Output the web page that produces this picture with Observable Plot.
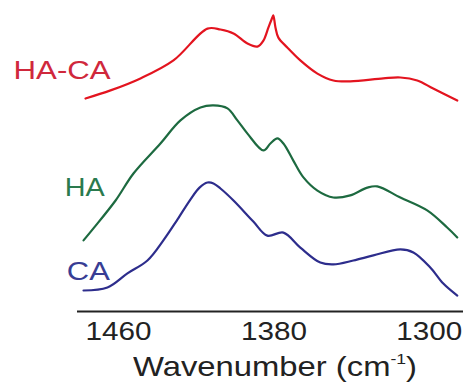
<!DOCTYPE html>
<html>
<head>
<meta charset="utf-8">
<script src="https://cdn.jsdelivr.net/npm/d3@7"></script>
<script src="https://cdn.jsdelivr.net/npm/@observablehq/plot@0.6"></script>
<style>
  html, body { margin: 0; padding: 0; background: #fff; }
  #chart { width: 467px; }
  .xlab { position: relative; height: 43px; width: 467px; font-family: "Liberation Sans", Arial, sans-serif; color: #222; }
  .xlab span { position: absolute; left: 133px; top: 8px; font-size: 28px; line-height: 28px; white-space: nowrap; transform-origin: left center; }
  .xlab sup { font-size: 15px; vertical-align: 12px; line-height: 0; }
</style>
</head>
<body>
<div id="chart"></div>
<script>
// Wavenumbers (cm^-1) and offset absorbance (a.u.)
const haCaWavenumber = [1477, 1464.1, 1448.7, 1431.7, 1414.2, 1407.5, 1400.8, 1393.6, 1388.5, 1385.4, 1382.8, 1380.8, 1380.3, 1379.2, 1377.7, 1373.1, 1366.4, 1357.6, 1349.4, 1340.7, 1323.7, 1314.9, 1306.2, 1298.0, 1285.6];
const haCaAbsorbance = [71.0, 73.7, 77.7, 83.7, 94.3, 94.0, 92.7, 89.3, 88.3, 90.3, 94.7, 98.0, 98.7, 94.7, 91.3, 88.0, 83.7, 79.3, 77.0, 76.7, 77.7, 78.0, 77.0, 74.3, 70.3];

const haWavenumber = [1478.0, 1472.9, 1461.5, 1452.3, 1438.4, 1428.1, 1417.8, 1411.1, 1403.9, 1398.8, 1393.6, 1385.4, 1381.8, 1378.2, 1375.1, 1370.0, 1364.8, 1357.6, 1349.4, 1340.7, 1331.9, 1326.8, 1314.9, 1301.1, 1290.8, 1285.6];
const haAbsorbance = [23.7, 27.7, 37.0, 46.0, 56.0, 63.7, 68.0, 68.7, 67.7, 63.7, 59.3, 53.7, 56.0, 57.7, 56.0, 50.3, 44.7, 40.3, 38.0, 38.7, 41.3, 41.7, 38.0, 33.7, 28.0, 24.7];

const caWavenumber = [1478.0, 1465.7, 1455.4, 1445.1, 1436.9, 1429.6, 1423.0, 1418.3, 1414.2, 1411.1, 1407.5, 1400.8, 1390.6, 1383.4, 1375.1, 1366.4, 1356.1, 1349.4, 1339.1, 1328.8, 1314.9, 1308.2, 1299.5, 1292.8, 1285.6];
const caAbsorbance = [7.0, 8.0, 12.7, 17.0, 23.7, 30.7, 37.3, 41.3, 43.0, 42.7, 41.0, 37.0, 30.0, 25.3, 26.3, 21.3, 16.3, 15.7, 17.0, 18.7, 20.7, 19.7, 14.7, 9.3, 5.3];

const seriesNames = ["HA-CA", "HA", "CA"];
const lineColors = ["#e3141f", "#1d6a40", "#2d2d8c"];
const labelColors = ["#d0283c", "#2a7a4e", "#383d94"];
const labelWavenumber = [1514.0, 1487.7, 1486.6];
const labelAbsorbance = [80.3, 41.3, 13.3];
const labelWidths = [97, 40, 43];

const tickValues = [1460, 1380, 1300];
const xLabel = "Wavenumber";

const toRows = (name, xs, ys) => xs.map((x, i) => ({series: name, wavenumber: x, absorbance: ys[i]}));
const spectra = [
  toRows("HA-CA", haCaWavenumber, haCaAbsorbance),
  toRows("HA", haWavenumber, haAbsorbance),
  toRows("CA", caWavenumber, caAbsorbance)
];
const labels = seriesNames.map((s, i) => ({series: s, wavenumber: labelWavenumber[i], absorbance: labelAbsorbance[i], color: labelColors[i]}));

const font = "'Liberation Sans', Arial, sans-serif";

const plot = Plot.plot({
  width: 467,
  height: 345,
  marginLeft: 77,
  marginRight: 4,
  marginTop: 11,
  marginBottom: 34,
  style: {fontFamily: font, background: "#fff", overflow: "visible"},
  x: {domain: [1481.1, 1282.4], ticks: tickValues, tickSize: 0, tickPadding: 10, label: null, tickFormat: d => String(d)},
  y: {domain: [0, 100], axis: null},
  marks: [
    ...spectra.map((rows, i) => Plot.line(rows, {x: "wavenumber", y: "absorbance", stroke: lineColors[i], strokeWidth: 2.2, curve: "catmull-rom"})),
    Plot.ruleY([0], {stroke: "#222", strokeWidth: 2}),
    Plot.text(labels, {x: "wavenumber", y: "absorbance", text: "series", fill: "color", textAnchor: "start", fontSize: 26, fontFamily: font}),
    Plot.axisX({ticks: tickValues, tickSize: 0, tickPadding: 10, fontSize: 26, label: null, tickFormat: d => String(d), fill: "#222"})
  ]
});
document.getElementById("chart").appendChild(plot);

// horizontally stretched lettering, as in the reference
d3.select(plot).selectAll("g[aria-label='text'] text").each(function(d, i) {
  d3.select(this).attr("textLength", labelWidths[i]).attr("lengthAdjust", "spacingAndGlyphs");
});
d3.select(plot).selectAll("g[aria-label='x-axis tick label'] text")
  .attr("textLength", 66).attr("lengthAdjust", "spacingAndGlyphs");

const cap = d3.select("body").append("div").attr("class", "xlab");
const span = cap.append("span");
span.append("tspan").text(xLabel + " (cm");
span.append("sup").text("-1");
span.append("tspan").text(")");
const w = span.node().getBoundingClientRect().width;
span.style("transform", `scaleX(${284 / w})`);
</script>
</body>
</html>
